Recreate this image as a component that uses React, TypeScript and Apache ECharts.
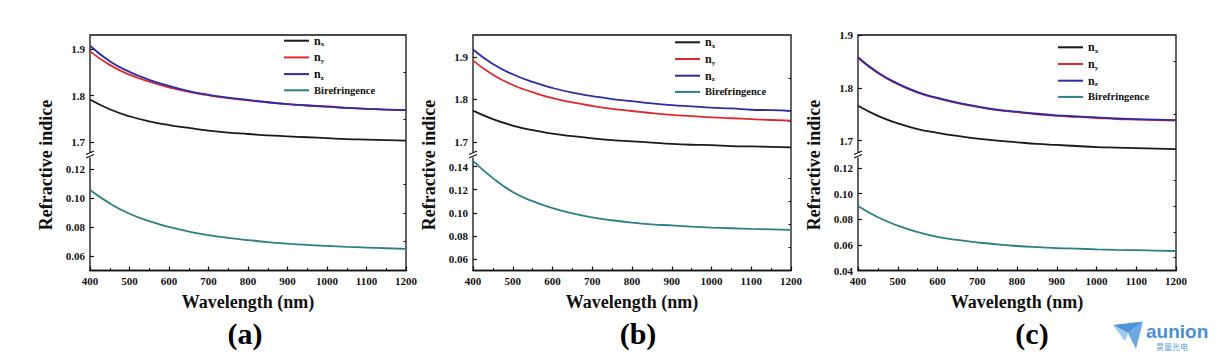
import React, { useEffect, useRef } from "react";
import * as echarts from "echarts";

// ---------- data ----------
const WAVELENGTH = [400, 450, 500, 550, 600, 650, 700, 750, 800, 850, 900, 950, 1000, 1050, 1100, 1150, 1200];
const SERIES_NAMES = ["nx", "ny", "nz", "Birefringence"];

// panel (a)
const A_NX = [1.792, 1.771, 1.756, 1.745, 1.737, 1.731, 1.725, 1.721, 1.718, 1.715, 1.713, 1.711, 1.709, 1.707, 1.706, 1.705, 1.704];
const A_NY = [1.895, 1.866, 1.845, 1.830, 1.818, 1.808, 1.801, 1.795, 1.790, 1.786, 1.782, 1.779, 1.776, 1.774, 1.772, 1.770, 1.769];
const A_NZ = [1.907, 1.874, 1.851, 1.834, 1.821, 1.810, 1.802, 1.796, 1.791, 1.786, 1.782, 1.779, 1.777, 1.774, 1.772, 1.770, 1.769];
const A_BI = [0.1057, 0.0965, 0.0893, 0.0842, 0.0802, 0.0770, 0.0745, 0.0726, 0.0711, 0.0697, 0.0686, 0.0677, 0.0670, 0.0664, 0.0659, 0.0654, 0.0650];

// panel (b)
const B_NX = [1.774, 1.754, 1.739, 1.728, 1.720, 1.714, 1.709, 1.705, 1.702, 1.699, 1.696, 1.694, 1.693, 1.691, 1.690, 1.689, 1.688];
const B_NY = [1.891, 1.858, 1.834, 1.817, 1.803, 1.793, 1.785, 1.778, 1.773, 1.768, 1.764, 1.761, 1.758, 1.756, 1.754, 1.752, 1.7505];
const B_NZ = [1.917, 1.883, 1.859, 1.841, 1.827, 1.816, 1.808, 1.801, 1.796, 1.791, 1.787, 1.784, 1.781, 1.779, 1.776, 1.775, 1.773];
const B_BI = [0.145, 0.130, 0.118, 0.110, 0.104, 0.0995, 0.096, 0.0935, 0.0915, 0.0900, 0.0890, 0.0880, 0.0872, 0.0866, 0.0860, 0.0856, 0.0852];

// panel (c)
const C_NX = [1.766, 1.747, 1.733, 1.722, 1.715, 1.709, 1.704, 1.700, 1.697, 1.694, 1.692, 1.690, 1.688, 1.687, 1.686, 1.685, 1.684];
const C_NY = [1.857, 1.828, 1.807, 1.791, 1.780, 1.771, 1.764, 1.758, 1.754, 1.750, 1.747, 1.745, 1.743, 1.741, 1.740, 1.739, 1.738];
const C_NZ = [1.858, 1.829, 1.808, 1.792, 1.781, 1.772, 1.765, 1.759, 1.755, 1.751, 1.748, 1.746, 1.744, 1.742, 1.741, 1.740, 1.739];
const C_BI = [0.0902, 0.0815, 0.0750, 0.0700, 0.0662, 0.0638, 0.0619, 0.0603, 0.0591, 0.0582, 0.0575, 0.0570, 0.0565, 0.0561, 0.0558, 0.0555, 0.0552];

// tick labels
const X_TICKS = [400, 500, 600, 700, 800, 900, 1000, 1100, 1200];
const UPPER_LABELS = [1.7, 1.8, 1.9];
const UPPER_MINOR = [1.75, 1.85];
const A_LOWER_LABELS = [0.06, 0.08, 0.1, 0.12];
const A_LOWER_MINOR = [0.07, 0.09, 0.11];
const B_LOWER_LABELS = [0.06, 0.08, 0.1, 0.12, 0.14];
const B_LOWER_MINOR = [0.07, 0.09, 0.11, 0.13];
const C_LOWER_LABELS = [0.04, 0.06, 0.08, 0.1, 0.12];
const C_LOWER_MINOR = [0.05, 0.07, 0.09, 0.11];
const PANEL_LABELS = ["(a)", "(b)", "(c)"];

const COLORS = ["#1a1a1a", "#e0282c", "#2c2ca6", "#2c7f86"];
const SERIF = "'Times New Roman', 'Liberation Serif', serif";
const INK = "#111";

const PANELS = [
  { L: 90, R: 406, upper: [1.673, 1.93], lower: [0.05, 0.13], lowerLabels: A_LOWER_LABELS, lowerMinor: A_LOWER_MINOR, data: [A_NX, A_NY, A_NZ, A_BI], legend: [284, 34.7], labelX: 245 },
  { L: 473, R: 791, upper: [1.67, 1.951], lower: [0.05, 0.15], lowerLabels: B_LOWER_LABELS, lowerMinor: B_LOWER_MINOR, data: [B_NX, B_NY, B_NZ, B_BI], legend: [675, 36.3], labelX: 638 },
  { L: 858, R: 1176, upper: [1.673, 1.9], lower: [0.04, 0.13], lowerLabels: C_LOWER_LABELS, lowerMinor: C_LOWER_MINOR, data: [C_NX, C_NY, C_NZ, C_BI], legend: [1058, 41.3], labelX: 1032 },
];

const TOP = 35;
const BREAK = 155;
const BOTTOM = 270.5;

function buildOption() {
  const grid: any[] = [];
  const xAxis: any[] = [];
  const yAxis: any[] = [];
  const series: any[] = [];
  const legend: any[] = [];
  const graphic: any[] = [];

  const tickLine = { color: INK, width: 1.2 };
  const labelStyle = { fontFamily: SERIF, fontWeight: "bold", fontSize: 11, color: INK };

  PANELS.forEach((p, pi) => {
    const width = p.R - p.L;
    grid.push({ left: p.L, top: TOP, width, height: BOTTOM - TOP, show: true, borderColor: INK, borderWidth: 1.3, backgroundColor: "transparent" });
    grid.push({ left: p.L, top: TOP, width, height: BREAK - TOP });
    grid.push({ left: p.L, top: BREAK, width, height: BOTTOM - BREAK });

    xAxis.push({
      type: "value", gridIndex: 3 * pi, min: 400, max: 1200, interval: 100,
      axisLine: { show: true, lineStyle: { color: INK, width: 1.3 } },
      axisTick: { show: true, inside: true, length: 4, lineStyle: tickLine },
      minorTick: { show: true, splitNumber: 2, length: 2.5, lineStyle: { color: INK, width: 1 } },
      axisLabel: { ...labelStyle, margin: 5, customValues: X_TICKS, formatter: (v: number) => String(v) },
      splitLine: { show: false }, minorSplitLine: { show: false },
      name: "Wavelength (nm)", nameLocation: "middle", nameGap: 22,
      nameTextStyle: { fontFamily: SERIF, fontWeight: "bold", fontSize: 18, color: INK },
    });
    xAxis.push({ type: "value", gridIndex: 3 * pi + 1, min: 400, max: 1200, show: false });
    xAxis.push({ type: "value", gridIndex: 3 * pi + 2, min: 400, max: 1200, show: false });

    yAxis.push({ type: "value", gridIndex: 3 * pi, min: 0, max: 1, show: false });
    const yMajor = (gi: number, range: number[], labels: number[], digits: number) => ({
      type: "value", gridIndex: gi, min: range[0], max: range[1],
      axisLine: { show: false },
      axisTick: { show: true, inside: true, length: 4, lineStyle: tickLine, customValues: labels },
      axisLabel: { ...labelStyle, margin: 5, customValues: labels, formatter: (v: number) => v.toFixed(digits) },
      splitLine: { show: false },
    });
    const yMinor = (gi: number, range: number[], ticks: number[]) => ({
      type: "value", gridIndex: gi, min: range[0], max: range[1],
      axisLine: { show: false },
      axisTick: { show: true, inside: true, length: 2.5, lineStyle: { color: INK, width: 1 }, customValues: ticks },
      axisLabel: { show: false },
      splitLine: { show: false },
    });
    yAxis.push(yMajor(3 * pi + 1, p.upper, UPPER_LABELS, 1));
    yAxis.push(yMinor(3 * pi + 1, p.upper, UPPER_MINOR));
    yAxis.push(yMajor(3 * pi + 2, p.lower, p.lowerLabels, 2));
    yAxis.push(yMinor(3 * pi + 2, p.lower, p.lowerMinor));

    p.data.forEach((arr, si) => {
      const isLower = si === 3;
      series.push({
        type: "line",
        name: SERIES_NAMES[si],
        xAxisIndex: isLower ? 3 * pi + 2 : 3 * pi + 1,
        yAxisIndex: isLower ? 5 * pi + 3 : 5 * pi + 1,
        data: WAVELENGTH.map((w, i) => [w, arr[i]]),
        smooth: true,
        showSymbol: false,
        symbol: "none",
        z: 2 + si,
        itemStyle: { color: COLORS[si] },
        lineStyle: { color: COLORS[si], width: 1.8 },
      });
    });

    legend.push({
      orient: "vertical", left: p.legend[0], top: p.legend[1], padding: 0,
      itemWidth: 25, itemHeight: 2, itemGap: 3.7, icon: "rect", selectedMode: false,
      data: SERIES_NAMES,
      formatter: (name: string) => (name === "Birefringence" ? "{b|Birefringence}" : `{n|n}{s|${name[1]}}`),
      textStyle: {
        color: INK,
        rich: {
          n: { fontFamily: SERIF, fontWeight: "bold", fontSize: 12, lineHeight: 14, color: INK },
          s: { fontFamily: SERIF, fontWeight: "bold", fontSize: 7, lineHeight: 8, verticalAlign: "bottom", color: INK },
          b: { fontFamily: SERIF, fontWeight: "bold", fontSize: 10.5, lineHeight: 14, color: INK },
        },
      },
    });

    graphic.push({
      type: "text", x: p.L - 44.5, y: 165, rotation: Math.PI / 2,
      style: { text: "Refractive indice", fontFamily: SERIF, fontWeight: "bold", fontSize: 18, fill: INK, textAlign: "center", textVerticalAlign: "middle" },
    });
    graphic.push({ type: "rect", shape: { x: p.L - 2, y: BREAK - 2.5, width: 4, height: 5 }, style: { fill: "#fff" }, z: 50 });
    graphic.push({ type: "line", shape: { x1: p.L - 4, y1: BREAK - 0.5, x2: p.L + 4, y2: BREAK - 4 }, style: { stroke: INK, lineWidth: 1.2 }, z: 51 });
    graphic.push({ type: "line", shape: { x1: p.L - 4, y1: BREAK + 3, x2: p.L + 4, y2: BREAK - 0.5 }, style: { stroke: INK, lineWidth: 1.2 }, z: 51 });
    graphic.push({
      type: "text", x: p.labelX, y: 333,
      style: { text: PANEL_LABELS[pi], fontFamily: SERIF, fontWeight: "bold", fontSize: 30, fill: "#000", textAlign: "center", textVerticalAlign: "middle" },
    });
  });

  // watermark
  graphic.push({ type: "polygon", shape: { points: [[1113, 325], [1143, 321.5], [1128, 333]] }, style: { fill: "#4d93d8" } });
  graphic.push({ type: "polygon", shape: { points: [[1128, 333], [1143, 321.5], [1136, 349]] }, style: { fill: "#6aa9e2" } });
  graphic.push({ type: "polygon", shape: { points: [[1113, 325], [1128, 333], [1125, 341]] }, style: { fill: "#9ccaf0" } });
  graphic.push({ type: "text", x: 1146, y: 323, style: { text: "aunion", fontFamily: "Arial, 'Liberation Sans', sans-serif", fontWeight: "bold", fontSize: 19, lineHeight: 17, fill: "#4a90d9", textVerticalAlign: "top" } });
  graphic.push({ type: "text", x: 1156, y: 342, style: { text: "昊量光电", fontFamily: "'Noto Sans CJK SC', sans-serif", fontSize: 8, lineHeight: 9, fill: "#5b9bd5", textVerticalAlign: "top" } });

  return { animation: false, backgroundColor: "#fff", grid, xAxis, yAxis, series, legend, graphic };
}

export default function App() {
  const ref = useRef<HTMLDivElement>(null);
  useEffect(() => {
    if (!ref.current) return;
    const chart = echarts.init(ref.current, null, { renderer: "svg" });
    chart.setOption(buildOption() as any);
    return () => chart.dispose();
  }, []);
  return <div ref={ref} style={{ position: "fixed", left: 0, top: 0, width: 1222, height: 361, background: "#fff" }} />;
}
